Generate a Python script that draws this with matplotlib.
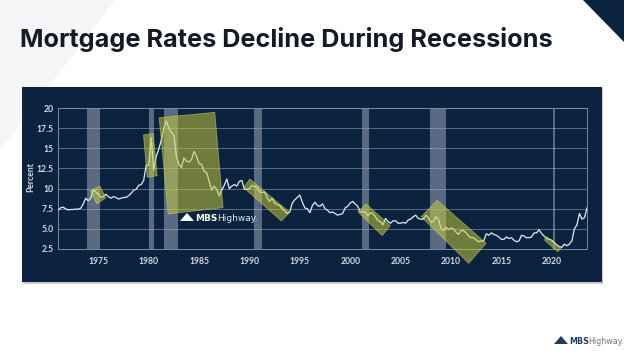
import matplotlib.pyplot as plt
from matplotlib.patches import Rectangle, Polygon

# 30-yr mortgage rate, 4 points per year (Jan, Apr, Jul, Oct)
start_year = 1971
rates = [
    7.3, 7.6, 7.7, 7.5,       # 1971
    7.35, 7.4, 7.4, 7.45,     # 1972
    7.45, 7.55, 8.1, 8.8,     # 1973
    8.5, 8.8, 9.9, 9.6,       # 1974
    9.3, 8.9, 9.0, 9.3,       # 1975
    9.0, 8.8, 9.0, 8.9,       # 1976
    8.7, 8.8, 8.9, 8.9,       # 1977
    9.1, 9.4, 9.8, 9.9,       # 1978
    10.4, 10.5, 11.0, 12.9,   # 1979
    12.9, 16.3, 12.3, 14.0,   # 1980
    14.9, 16.0, 17.5, 18.4,   # 1981
    17.5, 17.0, 16.6, 14.0,   # 1982
    13.0, 12.6, 13.8, 13.4,   # 1983
    13.3, 13.6, 14.6, 14.0,   # 1984
    13.1, 13.0, 12.1, 12.0,   # 1985
    10.9, 9.8, 10.3, 9.9,     # 1986
    9.1, 9.8, 10.4, 11.2,     # 1987
    10.0, 10.3, 10.5, 10.3,   # 1988
    10.9, 11.0, 9.9, 9.9,     # 1989
    10.0, 10.4, 10.2, 10.2,   # 1990
    9.6, 9.5, 9.6, 8.9,       # 1991
    8.4, 8.8, 8.2, 8.0,       # 1992
    7.9, 7.5, 7.2, 6.9,       # 1993
    7.1, 8.2, 8.6, 8.9,       # 1994
    9.2, 8.3, 7.6, 7.5,       # 1995
    7.0, 7.9, 8.3, 7.9,       # 1996
    7.8, 8.1, 7.5, 7.3,       # 1997
    7.0, 7.1, 6.9, 6.7,       # 1998
    6.8, 6.9, 7.6, 7.8,       # 1999
    8.2, 8.4, 8.1, 7.8,       # 2000
    7.1, 7.1, 7.1, 6.6,       # 2001
    7.0, 6.9, 6.5, 6.0,       # 2002
    5.9, 5.5, 6.3, 5.9,       # 2003
    5.7, 6.0, 6.0, 5.7,       # 2004
    5.7, 5.8, 5.7, 6.1,       # 2005
    6.2, 6.5, 6.7, 6.3,       # 2006
    6.2, 6.2, 6.7, 6.4,       # 2007
    5.8, 5.9, 6.5, 6.2,       # 2008
    5.1, 4.8, 5.2, 4.9,       # 2009
    5.1, 5.0, 4.6, 4.3,       # 2010
    4.8, 4.8, 4.5, 4.1,       # 2011
    3.9, 3.9, 3.6, 3.4,       # 2012
    3.5, 3.5, 4.4, 4.2,       # 2013
    4.5, 4.3, 4.2, 4.0,       # 2014
    3.7, 3.7, 4.0, 3.8,       # 2015
    3.9, 3.6, 3.4, 3.5,       # 2016
    4.2, 4.1, 3.9, 3.9,       # 2017
    4.0, 4.5, 4.5, 4.9,       # 2018
    4.4, 4.1, 3.8, 3.7,       # 2019
    3.6, 3.3, 3.0, 2.8,       # 2020
    2.7, 3.1, 2.9, 3.1,       # 2021
    3.5, 5.0, 5.5, 6.9,       # 2022
    6.2, 6.4, 7.6,            # 2023
]
years = [start_year + i / 4 for i in range(len(rates))]

# NBER recessions (start, end) in decimal years
recessions = [(1973.85, 1975.2), (1980.0, 1980.55), (1981.5, 1982.9),
              (1990.5, 1991.2), (2001.2, 2001.9), (2007.9, 2009.5),
              (2020.1, 2020.3)]

# highlighted "decline" boxes, corners in (year, percent)
highlights = [
    [(1974.24, 9.70), (1975.16, 10.32), (1975.73, 8.83), (1974.84, 8.09)],
    [(1979.49, 16.65), (1980.45, 16.86), (1980.84, 11.60), (1979.85, 11.40)],
    [(1981.04, 18.80), (1986.56, 19.46), (1987.38, 7.63), (1981.93, 6.85)],
    [(1989.43, 10.11), (1990.03, 11.19), (1993.99, 7.06), (1993.17, 5.98)],
    [(2000.76, 7.13), (2001.59, 8.09), (2003.97, 5.40), (2003.18, 4.16)],
    [(2007.04, 6.51), (2008.63, 8.55), (2013.49, 3.21), (2011.76, 0.73)],
    [(2019.27, 3.62), (2019.50, 4.03), (2020.92, 2.59), (2020.58, 2.17)],
]

y_ticks = [2.5, 5, 7.5, 10, 12.5, 15, 17.5, 20]
y_labels = ['2.5', '5.0', '7.5', '10', '12.5', '15', '17.5', '20']
x_ticks = [1975, 1980, 1985, 1990, 1995, 2000, 2005, 2010, 2015, 2020]

navy = '#0c2340'
W, H = 624, 351

fig = plt.figure(figsize=(6.24, 3.51), dpi=100)
fig.patch.set_facecolor('white')

# faint slide decorations
fig.patches.append(Polygon([(0, 1), (115 / W, 1), (0, 1 - 150 / H)], closed=True,
                           transform=fig.transFigure, facecolor='#f4f5f7', edgecolor='none', zorder=0))
fig.patches.append(Polygon([(583 / W, 1), (1, 1), (1, 1 - 42 / H)], closed=True,
                           transform=fig.transFigure, facecolor=navy, edgecolor='none', zorder=1))

# title
fig.text(20 / W, 1 - 40 / H, 'Mortgage Rates Decline During Recessions',
         fontsize=18.2, fontweight='bold', family='Inter', color='#141a26', va='center')

# dark chart panel with a soft shadow
fig.patches.append(Rectangle((23 / W, 1 - 284 / H), 580 / W, 196 / H, transform=fig.transFigure,
                             facecolor='#c8ccd2', edgecolor='none', zorder=1))
fig.patches.append(Rectangle((22 / W, 1 - 282 / H), 580 / W, 195 / H, transform=fig.transFigure,
                             facecolor=navy, edgecolor='none', zorder=2))

ax = fig.add_axes([58 / W, 1 - 249 / H, (587 - 58) / W, (249 - 108) / H])
ax.set_facecolor(navy)
ax.set_zorder(3)

for a, b in recessions:
    ax.axvspan(a, b, facecolor='#a8b4c2', alpha=0.5, edgecolor='none', zorder=1)

ax.plot(years, rates, color='#d8eefa', lw=0.9, zorder=3)

for pts in highlights:
    ax.add_patch(Polygon(pts, closed=True, facecolor='#c8cd3c', alpha=0.53,
                         edgecolor='#d6dc5a', lw=0.6, zorder=4, clip_on=False))

ax.set_xlim(1971.0, 2023.5)
ax.set_ylim(2.5, 20)
ax.set_yticks(y_ticks)
ax.set_yticklabels(y_labels)
ax.set_xticks(x_ticks)
ax.yaxis.grid(True, color='#5c6e85', lw=0.7, zorder=0)
ax.set_axisbelow(True)
ax.tick_params(length=0, labelsize=6.2, labelcolor='#d4dbe3')
ax.tick_params(axis='y', pad=3)
ax.tick_params(axis='x', pad=6)
for lab in ax.get_xticklabels() + ax.get_yticklabels():
    lab.set_fontweight('bold')
    lab.set_family('Lato')
for s in ax.spines.values():
    s.set_color('#7c8ca0')
    s.set_linewidth(0.7)

fig.text(31 / W, 1 - 177 / H, 'Percent', fontsize=6.2, color='#d4dbe3', fontweight='bold',
         family='Lato', rotation=90, ha='center', va='center', zorder=10)

# watermark logo inside the chart
fig.patches.append(Polygon([(180 / W, 1 - 221 / H), (187 / W, 1 - 213 / H), (194 / W, 1 - 221 / H)],
                           closed=True, transform=fig.transFigure, facecolor='white',
                           edgecolor='none', zorder=10))
fig.text(195 / W, 1 - 218 / H, 'MBS', fontsize=6.5, fontweight='bold', color='white',
         va='center', zorder=10)
fig.text(217 / W, 1 - 218 / H, 'Highway.', fontsize=6.5, color='#e6ebf0', va='center', zorder=10)

# corner logo
fig.patches.append(Polygon([(554 / W, 1 - 344 / H), (561 / W, 1 - 336 / H), (568 / W, 1 - 344 / H)],
                           closed=True, transform=fig.transFigure, facecolor='#1e3d5c',
                           edgecolor='none', zorder=10))
fig.text(569 / W, 1 - 341 / H, 'MBS', fontsize=5.8, fontweight='bold', color='#1e3d5c', va='center')
fig.text(588 / W, 1 - 341 / H, 'Highway.', fontsize=5.8, color='#6c7a88', va='center')

plt.savefig('out.png', dpi=100)
